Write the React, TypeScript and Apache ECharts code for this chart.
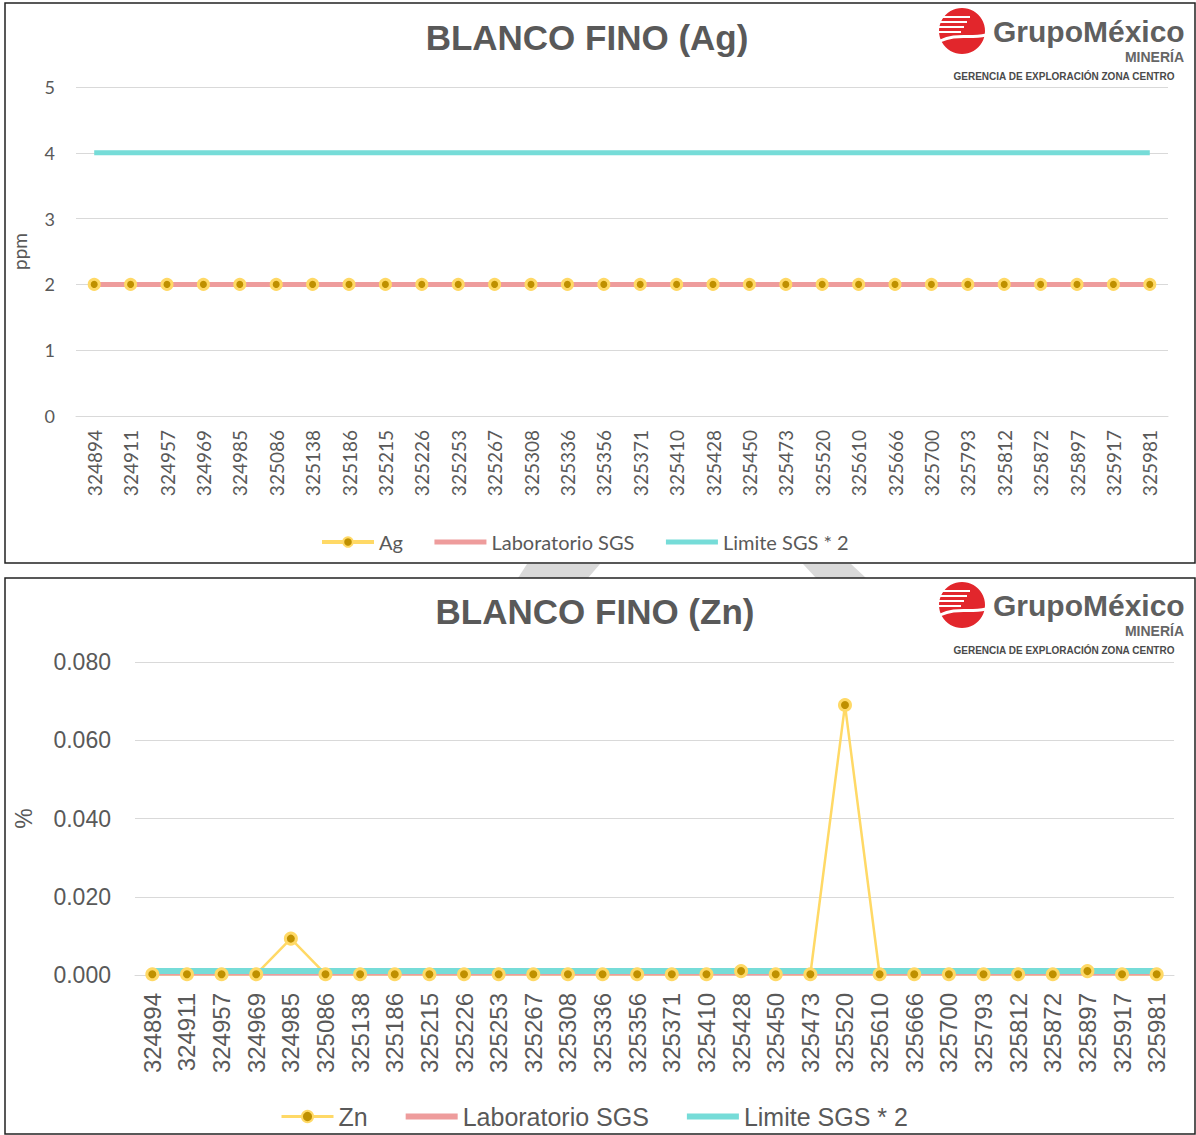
import React, { useEffect, useRef } from "react";
import * as echarts from "echarts";

const categories = [
  "324894", "324911", "324957", "324969", "324985", "325086", "325138", "325186", "325215", "325226",
  "325253", "325267", "325308", "325336", "325356", "325371", "325410", "325428", "325450", "325473",
  "325520", "325610", "325666", "325700", "325793", "325812", "325872", "325897", "325917", "325981",
];

const agValues = [2, 2, 2, 2, 2, 2, 2, 2, 2, 2, 2, 2, 2, 2, 2, 2, 2, 2, 2, 2, 2, 2, 2, 2, 2, 2, 2, 2, 2, 2];
const agLab = [2, 2, 2, 2, 2, 2, 2, 2, 2, 2, 2, 2, 2, 2, 2, 2, 2, 2, 2, 2, 2, 2, 2, 2, 2, 2, 2, 2, 2, 2];
const agLimit = [4, 4, 4, 4, 4, 4, 4, 4, 4, 4, 4, 4, 4, 4, 4, 4, 4, 4, 4, 4, 4, 4, 4, 4, 4, 4, 4, 4, 4, 4];

const znValues = [
  0.0002, 0.0002, 0.0002, 0.0002, 0.0093, 0.0002, 0.0002, 0.0002, 0.0002, 0.0002,
  0.0002, 0.0002, 0.0002, 0.0002, 0.0002, 0.0002, 0.0002, 0.001, 0.0002, 0.0002,
  0.069, 0.0002, 0.0002, 0.0002, 0.0002, 0.0002, 0.0002, 0.001, 0.0002, 0.0002,
];
const znLab = [
  0.0005, 0.0005, 0.0005, 0.0005, 0.0005, 0.0005, 0.0005, 0.0005, 0.0005, 0.0005,
  0.0005, 0.0005, 0.0005, 0.0005, 0.0005, 0.0005, 0.0005, 0.0005, 0.0005, 0.0005,
  0.0005, 0.0005, 0.0005, 0.0005, 0.0005, 0.0005, 0.0005, 0.0005, 0.0005, 0.0005,
];
const znLimit = [
  0.001, 0.001, 0.001, 0.001, 0.001, 0.001, 0.001, 0.001, 0.001, 0.001,
  0.001, 0.001, 0.001, 0.001, 0.001, 0.001, 0.001, 0.001, 0.001, 0.001,
  0.001, 0.001, 0.001, 0.001, 0.001, 0.001, 0.001, 0.001, 0.001, 0.001,
];

const agTicks = { min: 0, max: 5, interval: 1 };
const znTicks = { min: 0, max: 0.08, interval: 0.02 };

const TXT = "#595959";
const GRID = "#D9D9D9";
const YELLOW = "#FFD966";
const GOLD = "#BF9000";
const PINK = "#EE9C9C";
const CYAN = "#76DCD8";
const RED = "#E2262C";

function logo(cx: number, cy: number): any[] {
  const els: any[] = [];
  els.push({ type: "circle", shape: { cx, cy, r: 23 }, style: { fill: RED }, z: 10 });
  const stripes = [-14, -9, -4, 1];
  stripes.forEach((d, i) => {
    els.push({
      type: "line",
      shape: { x1: cx - 24, y1: cy + d, x2: cx + 8 - i * 3, y2: cy + d },
      style: { stroke: "#ffffff", lineWidth: 2 },
      z: 11,
    });
  });
  els.push({
    type: "bezierCurve",
    shape: { x1: cx - 22, y1: cy + 10, cpx1: cx - 5, cpy1: cy + 2, cpx2: cx + 5, cpy2: cy + 8, x2: cx + 24, y2: cy + 4 },
    style: { stroke: "#ffffff", lineWidth: 3, fill: null },
    z: 11,
  });
  els.push({
    type: "text",
    x: cx + 31,
    y: cy,
    style: { text: "GrupoMéxico", fill: "#5f5f5f", font: "bold 30px 'Liberation Sans', Arial, sans-serif", textVerticalAlign: "middle", textAlign: "left" },
    z: 10,
  });
  els.push({
    type: "text",
    x: 1184,
    y: cy + 26,
    style: { text: "MINERÍA", fill: "#666666", font: "bold 14px 'Liberation Sans', Arial, sans-serif", textVerticalAlign: "middle", textAlign: "right" },
    z: 10,
  });
  els.push({
    type: "text",
    x: 1064,
    y: cy + 45,
    style: { text: "GERENCIA DE EXPLORACIÓN ZONA CENTRO", fill: "#4a4a4a", font: "bold 10px 'Liberation Sans Narrow', 'Liberation Sans', Arial, sans-serif", textVerticalAlign: "middle", textAlign: "center" },
    z: 10,
  });
  return els;
}

export default function App() {
  const ref = useRef<HTMLDivElement>(null);

  useEffect(() => {
    document.body.style.margin = "0";
    if (!ref.current) return;
    const chart = echarts.init(ref.current, null, { renderer: "svg" });

    const fontA = "Lato, 'Open Sans', sans-serif";
    const fontL = "'Liberation Sans', Arial, sans-serif";
    const hidden = { opacity: 0 };

    const option: any = {
      animation: false,
      backgroundColor: "#ffffff",
      title: [
        {
          text: "BLANCO FINO (Ag)",
          left: 582,
          top: 15,
          textAlign: "center",
          textStyle: { fontSize: 35, fontWeight: "bold", color: TXT, fontFamily: fontL },
        },
        {
          text: "BLANCO FINO (Zn)",
          left: 590,
          top: 589,
          textAlign: "center",
          textStyle: { fontSize: 35, fontWeight: "bold", color: TXT, fontFamily: fontL },
        },
      ],
      legend: [
        {
          left: 315,
          top: 527,
          itemWidth: 52,
          itemHeight: 12,
          itemGap: 29,
          textStyle: { fontSize: 20, color: TXT, fontFamily: fontA },
          data: [
            { name: "Ag", lineStyle: { width: 4 } },
            { name: "Laboratorio SGS", itemStyle: hidden, lineStyle: { width: 5 } },
            { name: "Limite SGS * 2", itemStyle: hidden, lineStyle: { width: 5 } },
          ],
        },
        {
          left: 275,
          top: 1099,
          itemWidth: 52,
          itemHeight: 14,
          itemGap: 35,
          textStyle: { fontSize: 25, color: TXT, fontFamily: fontL },
          data: [
            { name: "Zn", lineStyle: { width: 3 } },
            { name: "Laboratorio SGS", itemStyle: hidden, lineStyle: { width: 6 } },
            { name: "Limite SGS * 2", itemStyle: hidden, lineStyle: { width: 6 } },
          ],
        },
      ],
      grid: [
        { left: 76, right: 28, top: 87, height: 329, containLabel: false, outerBoundsMode: "none" },
        { left: 135, right: 22, top: 662, height: 313, containLabel: false, outerBoundsMode: "none" },
      ],
      xAxis: [
        {
          type: "category",
          gridIndex: 0,
          data: categories,
          boundaryGap: true,
          axisTick: { show: false },
          axisLine: { lineStyle: { color: GRID, width: 1 } },
          axisLabel: { rotate: 90, interval: 0, margin: 14, fontSize: 19, color: TXT, fontFamily: fontA },
        },
        {
          type: "category",
          gridIndex: 1,
          data: categories,
          boundaryGap: true,
          axisTick: { show: false },
          axisLine: { lineStyle: { color: GRID, width: 1 } },
          axisLabel: { rotate: 90, interval: 0, margin: 18, fontSize: 24, color: TXT, fontFamily: fontL },
        },
      ],
      yAxis: [
        {
          type: "value",
          gridIndex: 0,
          min: agTicks.min,
          max: agTicks.max,
          interval: agTicks.interval,
          name: "ppm",
          nameLocation: "middle",
          nameGap: 47,
          nameRotate: 90,
          nameTextStyle: { fontSize: 19, color: TXT, fontFamily: fontA },
          axisLine: { show: false },
          axisTick: { show: false },
          splitLine: { lineStyle: { color: GRID, width: 1 } },
          axisLabel: { margin: 21, fontSize: 18, color: TXT, fontFamily: fontA },
        },
        {
          type: "value",
          gridIndex: 1,
          min: znTicks.min,
          max: znTicks.max,
          interval: znTicks.interval,
          name: "%",
          nameLocation: "middle",
          nameGap: 100,
          nameRotate: 90,
          nameTextStyle: { fontSize: 23, color: TXT, fontFamily: fontL },
          axisLine: { show: false },
          axisTick: { show: false },
          splitLine: { lineStyle: { color: GRID, width: 1 } },
          axisLabel: {
            margin: 24,
            fontSize: 23,
            color: TXT,
            fontFamily: fontL,
            formatter: (v: number) => v.toFixed(3),
          },
        },
      ],
      series: [
        {
          name: "Ag",
          type: "line",
          xAxisIndex: 0,
          yAxisIndex: 0,
          data: agValues,
          symbol: "circle",
          symbolSize: 10,
          lineStyle: { color: YELLOW, width: 4 },
          itemStyle: { color: GOLD, borderColor: YELLOW, borderWidth: 3 },
        },
        {
          name: "Laboratorio SGS",
          type: "line",
          xAxisIndex: 0,
          yAxisIndex: 0,
          data: agLab,
          symbol: "none",
          lineStyle: { color: PINK, width: 5 },
          itemStyle: { color: PINK },
        },
        {
          name: "Limite SGS * 2",
          type: "line",
          xAxisIndex: 0,
          yAxisIndex: 0,
          data: agLimit,
          symbol: "none",
          lineStyle: { color: CYAN, width: 5 },
          itemStyle: { color: CYAN },
        },
        {
          name: "Zn",
          type: "line",
          xAxisIndex: 1,
          yAxisIndex: 1,
          data: znValues,
          symbol: "circle",
          symbolSize: 11,
          lineStyle: { color: YELLOW, width: 2.5 },
          itemStyle: { color: GOLD, borderColor: YELLOW, borderWidth: 3 },
        },
        {
          name: "Laboratorio SGS",
          type: "line",
          xAxisIndex: 1,
          yAxisIndex: 1,
          data: znLab,
          symbol: "none",
          lineStyle: { color: PINK, width: 5 },
          itemStyle: { color: PINK },
        },
        {
          name: "Limite SGS * 2",
          type: "line",
          xAxisIndex: 1,
          yAxisIndex: 1,
          data: znLimit,
          symbol: "none",
          lineStyle: { color: CYAN, width: 6 },
          itemStyle: { color: CYAN },
        },
      ],
      graphic: [
        {
          type: "polygon",
          shape: { points: [[527, 564], [600, 564], [588, 578], [518, 578]] },
          style: { fill: "#D9D9D9" },
          z: 0,
        },
        {
          type: "polygon",
          shape: { points: [[803, 564], [851, 564], [866, 578], [816, 578]] },
          style: { fill: "#D9D9D9" },
          z: 0,
        },
        {
          type: "rect",
          shape: { x: 5, y: 3, width: 1190, height: 560 },
          style: { fill: null, stroke: "#222222", lineWidth: 1.5 },
          z: 1,
        },
        {
          type: "rect",
          shape: { x: 5, y: 578, width: 1190, height: 556 },
          style: { fill: null, stroke: "#222222", lineWidth: 1.5 },
          z: 1,
        },
        ...logo(962, 31),
        ...logo(962, 605),
      ],
    };

    chart.setOption(option);
    return () => chart.dispose();
  }, []);

  return <div ref={ref} style={{ width: 1196, height: 1135 }} />;
}
